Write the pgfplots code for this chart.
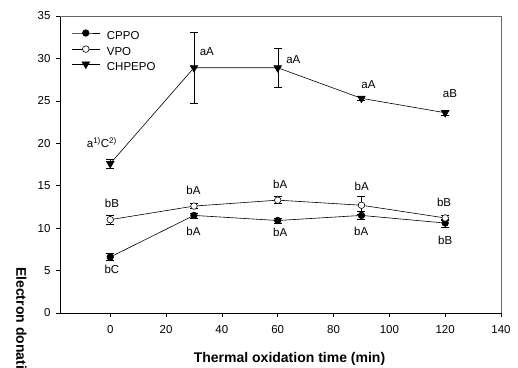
\documentclass[border=0pt]{standalone}
\usepackage{fontspec}
\setmainfont{Liberation Sans}
\usepackage{pgfplots}
\pgfplotsset{compat=1.18}
\usepackage{pgfplotstable}

\pgfplotstableread{
x y e
0 6.6 0.4
30 11.5 0.3
60 10.9 0.3
90 11.5 0.5
120 10.6 0.5
}\cppo
\pgfplotstableread{
x y e
0 11.0 0.5
30 12.6 0.3
60 13.3 0.4
90 12.7 1.1
120 11.2 0.3
}\vpo
\pgfplotstableread{
x y e
0 17.6 0.55
30 28.9 4.2
60 28.9 2.3
90 25.3 0.2
120 23.6 0.3
}\chpepo

\newcommand{\lab}{\fontsize{11.5}{13}\selectfont}

\begin{document}
\begin{tikzpicture}
\begin{axis}[
  at={(60pt,54pt)}, anchor=south west,
  scale only axis, width=441pt, height=297pt,
  xmin=-18, xmax=140, ymin=0, ymax=35,
  xtick={0,20,...,140}, ytick={0,5,...,35},
  axis lines=left, axis line style={-, black, line width=0.7pt},
  tick pos=left, tick align=outside, major tick length=4pt,
  tick style={black, line width=0.6pt},
  tick label style={font=\lab},
  xticklabel style={yshift=-5pt},
  yticklabel style={xshift=-2pt},
  /pgf/number format/assume math mode=true,
  clip=false,
  legend style={draw=none, fill=none, at={(rel axis cs:0,1)}, anchor=north west,
    xshift=11.5pt, yshift=-13.5pt, font=\lab, row sep=3.5pt, inner sep=0pt,
    nodes={inner sep=0pt, text height=8.5pt, text depth=2.5pt},
    /tikz/every even column/.append style={column sep=0pt}},
  legend cell align=left,
  legend image code/.code={\draw[mark repeat=2,mark phase=2] plot coordinates {(0pt,3.8pt) (13.8pt,3.8pt) (27.6pt,3.8pt)};},
  every axis plot/.append style={black, line width=0.6pt},
  error bars/y dir=both, error bars/y explicit,
  error bars/error mark options={rotate=90, mark size=4pt, black, line width=0.6pt},
]
\addplot[mark=*, mark size=3.3pt, mark options={fill=black}] table[x=x, y=y, y error=e] {\cppo};
\addlegendentry{\hspace{7pt}CPPO}
\addplot[mark=*, mark size=3.3pt, mark options={fill=white}] table[x=x, y=y, y error=e] {\vpo};
\addlegendentry{\hspace{7pt}VPO}
\addplot[mark=triangle*, mark size=4.4pt, mark options={fill=black, rotate=180}] table[x=x, y=y, y error=e] {\chpepo};
\addlegendentry{\hspace{7pt}CHPEPO}

\draw[gray!80!black, line width=0.7pt] (rel axis cs:0,1) -- (rel axis cs:1,1) -- (rel axis cs:1,0);

\node[font=\lab] at (axis cs:-3,20.05) {a\textsuperscript{1)}C\textsuperscript{2)}};
\node[font=\lab] at (axis cs:34.6,30.8) {aA};
\node[font=\lab] at (axis cs:65.6,29.9) {aA};
\node[font=\lab] at (axis cs:92.5,26.95) {aA};
\node[font=\lab] at (axis cs:121.7,25.8) {aB};

\node[font=\lab] at (axis cs:0.6,12.95) {bB};
\node[font=\lab] at (axis cs:29.8,14.4) {bA};
\node[font=\lab] at (axis cs:60.9,15.2) {bA};
\node[font=\lab] at (axis cs:90.1,14.9) {bA};
\node[font=\lab] at (axis cs:119.6,13.0) {bB};

\node[font=\lab] at (axis cs:0.6,5.18) {bC};
\node[font=\lab] at (axis cs:29.8,9.6) {bA};
\node[font=\lab] at (axis cs:60.9,9.5) {bA};
\node[font=\lab] at (axis cs:89.9,9.6) {bA};
\node[font=\lab] at (axis cs:120,8.6) {bB};
\end{axis}
\node[font=\fontsize{14}{16}\selectfont\bfseries, anchor=base] at (289.5pt,5pt) {Thermal oxidation time (min)};
\node[font=\fontsize{14}{16}\selectfont\bfseries, anchor=west, rotate=-90, inner sep=0pt] at (20pt,100pt) {Electron donating ability (\%)};
\pgfresetboundingbox
\path[use as bounding box] (0,0) rectangle (518pt,367pt);
\end{tikzpicture}
\end{document}
